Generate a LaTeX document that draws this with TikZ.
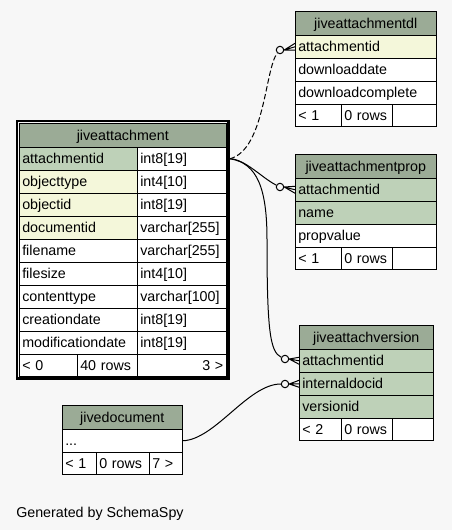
\documentclass[tikz,border=0pt]{standalone}
\usepackage{fontspec}
\setmainfont{Liberation Sans}
\usetikzlibrary{fit}
\definecolor{canvas}{HTML}{F7F7F7}
\definecolor{headgreen}{HTML}{9BAB96}
\definecolor{keygreen}{HTML}{BED1B8}
\definecolor{idxyellow}{HTML}{F4F7DA}
\newcommand\tabfont{\fontsize{10.7pt}{12pt}\selectfont}
\tikzset{
  cell/.style={draw=black,fill=#1,anchor=north west,inner xsep=2.25pt,inner ysep=0pt,
    minimum height=17.25pt,text height=7.7pt,text depth=0pt,font=\tabfont,align=left},
  cell/.default=white,
  cellw/.code={\pgfmathsetlengthmacro\cellwd{#1*0.75pt-4.5pt}\tikzset{text width=\cellwd}},
  tabhead/.style={cell=headgreen,minimum height=18pt,align=center},
  tabfoot/.style={cell=white,minimum height=16.5pt},
  focusframe/.style={draw=black,line width=1.9pt,inner sep=1.5pt},
  rel/.style={draw=black,line width=0.75pt},
  optdot/.style={circle,draw=black,fill=canvas,line width=0.75pt,inner sep=0pt,minimum size=5.6pt},
}
% crow's foot from the open circle to the referencing row
\newcommand\crowfoot[2]{%
  \draw[rel] (#1.east) -- (#2.west)
    (#1.east) -- ([yshift=2.6pt]#2.west)
    (#1.east) -- ([yshift=-2.6pt]#2.west);}

\begin{document}
\begin{tikzpicture}[x=0.75pt,y=-0.75pt]
  \fill[canvas] (0,0) rectangle (452,530);
  \useasboundingbox (0,0) rectangle (452,530);

  % jiveattachmentdl
  \node[tabhead,cellw=141] (dl) at (295,11) {jiveattachmentdl};
  \foreach \nm/\cl [count=\i from 0] in {attachmentid/idxyellow,downloaddate/white,downloadcomplete/white}
    \node[cell=\cl,cellw=141] (dl-\nm) at (295,35+23*\i) {\nm};
  \node[tabfoot,cellw=46] (dl-f1) at (295,104) {< 1};
  \node[tabfoot,cellw=51] (dl-f2) at (341,104) {0 rows};
  \node[tabfoot,cellw=44] (dl-f3) at (392,104) {};

  % jiveattachmentprop
  \node[tabhead,cellw=141] (prop) at (295,154) {jiveattachmentprop};
  \foreach \nm/\cl [count=\i from 0] in {attachmentid/keygreen,name/keygreen,propvalue/white}
    \node[cell=\cl,cellw=141] (prop-\nm) at (295,178+23*\i) {\nm};
  \node[tabfoot,cellw=46] (prop-f1) at (295,247) {< 1};
  \node[tabfoot,cellw=51] (prop-f2) at (341,247) {0 rows};
  \node[tabfoot,cellw=44] (prop-f3) at (392,247) {};

  % jiveattachment
  \node[tabhead,cellw=207] (att) at (19,123) {jiveattachment};
  \foreach \nm/\ty/\cl [count=\i from 0] in {attachmentid/int8[19]/keygreen,
      objecttype/int4[10]/idxyellow,objectid/int8[19]/idxyellow,documentid/varchar[255]/idxyellow,
      filename/varchar[255]/white,filesize/int4[10]/white,contenttype/varchar[100]/white,
      creationdate/int8[19]/white,modificationdate/int8[19]/white}{
    \node[cell=\cl,cellw=118] (att-\nm) at (19,147+23*\i) {\nm};
    \node[cell,cellw=89] (att-\nm-t) at (137,147+23*\i) {\ty};
  }
  \node[tabfoot,cellw=58] (att-f1) at (19,354) {< 0};
  \node[tabfoot,cellw=60] (att-f2) at (77,354) {40 rows};
  \node[tabfoot,cellw=89,align=right] (att-f3) at (137,354) {3 >};
  \node[focusframe,fit=(att)(att-f3)] (attframe) {};

  % jiveattachversion
  \node[tabhead,cellw=134] (ver) at (299,325) {jiveattachversion};
  \foreach \nm/\cl [count=\i from 0] in {attachmentid/keygreen,internaldocid/keygreen,versionid/keygreen}
    \node[cell=\cl,cellw=134] (ver-\nm) at (299,349+23*\i) {\nm};
  \node[tabfoot,cellw=42] (ver-f1) at (299,418) {< 2};
  \node[tabfoot,cellw=51] (ver-f2) at (341,418) {0 rows};
  \node[tabfoot,cellw=41] (ver-f3) at (392,418) {};

  % jivedocument
  \node[tabhead,cellw=120] (doc) at (62,405) {jivedocument};
  \node[cell,cellw=120] (doc-dots) at (62,429) {...};
  \node[tabfoot,cellw=34] (doc-f1) at (62,452) {< 1};
  \node[tabfoot,cellw=53] (doc-f2) at (96,452) {0 rows};
  \node[tabfoot,cellw=33] (doc-f3) at (149,452) {7 >};

  % relations
  \node[optdot] (c-dl) at (280,50) {};
  \node[optdot] (c-prop) at (280,187) {};
  \node[optdot] (c-v1) at (285,359) {};
  \node[optdot] (c-v2) at (285,384) {};
  \crowfoot{c-dl}{dl-attachmentid}
  \crowfoot{c-prop}{prop-attachmentid}
  \crowfoot{c-v1}{ver-attachmentid}
  \crowfoot{c-v2}{ver-internaldocid}
  \draw[rel,dash pattern=on 4pt off 2pt] (att-attachmentid-t.east -| attframe.east)
    .. controls (265,150) and (265,68) .. (c-dl);
  \draw[rel] (att-attachmentid-t.east -| attframe.east)
    .. controls (245,159) and (262,178) .. (c-prop);
  \draw[rel] (att-attachmentid-t.east -| attframe.east)
    .. controls (258,163) and (267,190) .. (267,240)
    .. controls (267,330) and (270,352) .. (c-v1);
  \draw[rel] (doc-dots.east) .. controls (215,440) and (248,384) .. (c-v2);

  \node[font=\tabfont,anchor=base west,inner sep=0pt] (credit) at (16,517) {Generated by SchemaSpy};
\end{tikzpicture}
\end{document}
